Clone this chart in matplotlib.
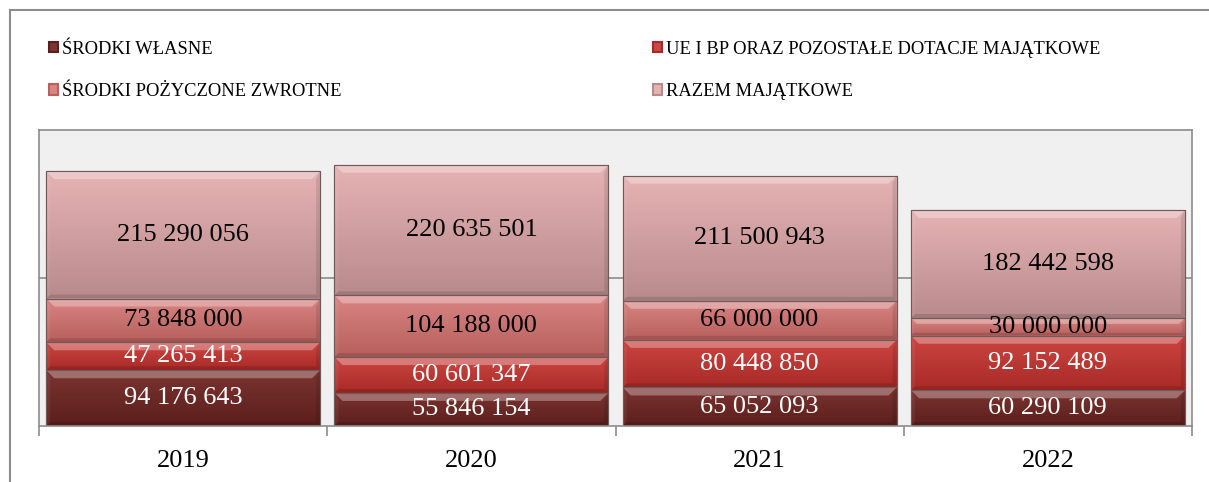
import matplotlib.pyplot as plt
import numpy as np
from matplotlib.colors import LinearSegmentedColormap
from matplotlib.patches import Polygon, Rectangle
from matplotlib.lines import Line2D

plt.rcParams['font.family'] = ['Liberation Serif', 'DejaVu Serif']

lata = ["2019", "2020", "2021", "2022"]
srodki_wlasne = [94176643, 55846154, 65052093, 60290109]
ue_bp = [47265413, 60601347, 80448850, 92152489]
pozyczone = [73848000, 104188000, 66000000, 30000000]
razem = [215290056, 220635501, 211500943, 182442598]

serie = [
    ("ŚRODKI WŁASNE", srodki_wlasne, "#7a3431", "#5c1e1c", "white"),
    ("UE I BP ORAZ POZOSTAŁE DOTACJE MAJĄTKOWE", ue_bp, "#cc4642", "#a82a27", "white"),
    ("ŚRODKI POŻYCZONE ZWROTNE", pozyczone, "#d98583", "#b7605e", "black"),
    ("RAZEM MAJĄTKOWE", razem, "#e6b3b4", "#b98a8c", "black"),
]


def fmt(v):
    return f"{v:,}".replace(",", " ")


fig = plt.figure(figsize=(12.09, 4.82), dpi=100)
ax = fig.add_axes([39 / 1209, 1 - 426 / 482, (1192 - 39) / 1209, 296 / 482])
ax.set_facecolor("#f0f0f0")

x = np.arange(len(lata))
szer = 0.95
ymax = 500e6
ax.set_xlim(-0.5, len(lata) - 0.5)
ax.set_ylim(0, ymax)

# wielkość fazy w pikselach -> jednostki danych
px_x = (len(lata)) / 1153
px_y = ymax / 296

dol = np.zeros(len(lata))
uchwyty = {}
for nazwa, wart, c_gora, c_dol, kol_txt in serie:
    wart = np.array(wart, dtype=float)
    bars = ax.bar(x, wart, szer, bottom=dol, color=c_dol, edgecolor="#6e5a5a",
                  linewidth=0.8, zorder=2)
    cmap = LinearSegmentedColormap.from_list(nazwa, [c_dol, c_gora])
    grad = np.linspace(0, 1, 64).reshape(-1, 1)
    for b in bars:
        bx, by, bw, bh = b.get_x(), b.get_y(), b.get_width(), b.get_height()
        im = ax.imshow(grad, extent=[bx, bx + bw, by, by + bh], origin="lower",
                       aspect="auto", cmap=cmap, zorder=2.1)
        im.set_clip_path(b)
        f = min(8, bh / px_y / 3)
        fx, fy = f * px_x, f * px_y
        fb = min(4, bh / px_y / 6)
        fbx, fby = fb * px_x, fb * px_y
        top = by + bh
        ax.add_patch(Polygon([(bx, top), (bx + bw, top), (bx + bw - fx, top - fy), (bx + fx, top - fy)],
                             closed=True, facecolor="white", alpha=0.3, lw=0, zorder=2.2))
        ax.add_patch(Polygon([(bx, by), (bx + bw, by), (bx + bw - fbx, by + fby), (bx + fbx, by + fby)],
                             closed=True, facecolor="black", alpha=0.12, lw=0, zorder=2.2))
        ax.add_patch(Polygon([(bx, by), (bx + fbx, by + fby), (bx + fbx, top - fy), (bx, top)],
                             closed=True, facecolor="white", alpha=0.06, lw=0, zorder=2.2))
        ax.add_patch(Polygon([(bx + bw, by), (bx + bw - fbx, by + fby), (bx + bw - fbx, top - fy), (bx + bw, top)],
                             closed=True, facecolor="black", alpha=0.1, lw=0, zorder=2.2))
        ax.add_patch(Rectangle((bx, by), bw, bh, fill=False, edgecolor="#6e5a5a", lw=0.8, zorder=2.3))
    for xi, d, v in zip(x, dol, wart):
        ax.text(xi, d + v / 2, fmt(int(v)), ha="center", va="center", fontsize=19,
                color=kol_txt, zorder=3)
    uchwyty[nazwa] = Rectangle((0, 0), 1, 1, facecolor=c_gora, edgecolor=c_dol, lw=1.5)
    dol = dol + wart

ax.axhline(250e6, color="#8c8c8c", lw=1.2, zorder=1)

for s in ax.spines.values():
    s.set_color("#8c8c8c")
    s.set_linewidth(1.2)

ax.set_yticks([])
ax.set_xticks(np.arange(len(lata) + 1) - 0.5)
ax.set_xticklabels([])
ax.tick_params(axis="x", which="major", length=7, color="#8c8c8c", width=1.2)
ax.set_xticks(x, minor=True)
ax.set_xticklabels(lata, minor=True, fontsize=19)
ax.tick_params(axis="x", which="minor", length=0, pad=17)

kolejnosc = ["ŚRODKI WŁASNE", "ŚRODKI POŻYCZONE ZWROTNE",
             "UE I BP ORAZ POZOSTAŁE DOTACJE MAJĄTKOWE", "RAZEM MAJĄTKOWE"]
fig.legend([uchwyty[k] for k in kolejnosc], kolejnosc, ncol=2, frameon=False,
           loc="upper left", bbox_to_anchor=(32 / 1209, 1 - 24 / 482),
           fontsize=13.3, handlelength=0.5, handleheight=0.5, handletextpad=0.2,
           columnspacing=16.87, labelspacing=1.38)

# ramka wykresu
fig.add_artist(Line2D([10 / 1209, 10 / 1209], [0, 1 - 10 / 482], color="#8c8c8c", lw=1.5))
fig.add_artist(Line2D([10 / 1209, 1], [1 - 10 / 482, 1 - 10 / 482], color="#8c8c8c", lw=1.5))

fig.savefig("out.png", dpi=100)
